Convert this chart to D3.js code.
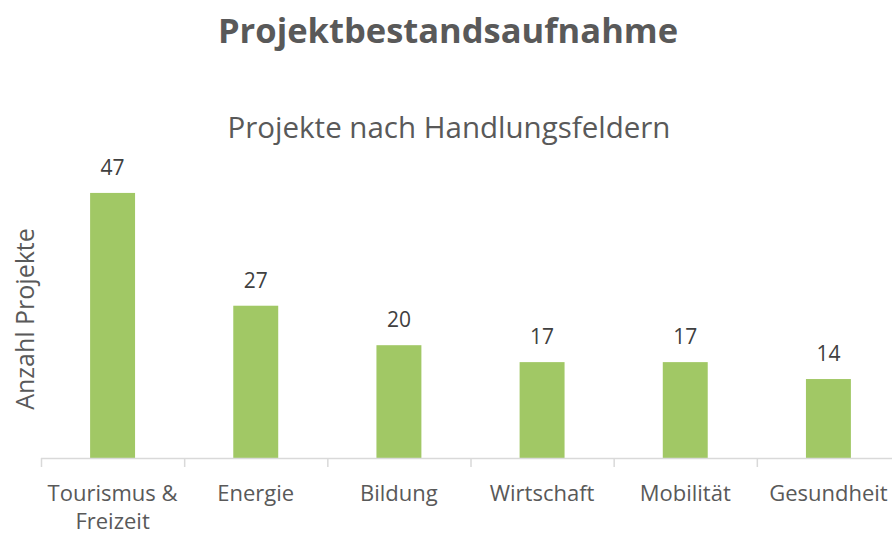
<!DOCTYPE html>
<html>
<head>
<meta charset="utf-8">
<script src="https://cdn.jsdelivr.net/npm/d3@7"></script>
<style>
  html, body { margin: 0; padding: 0; background: #fff; }
  svg { display: block; font-family: "Open Sans", "Noto Sans", sans-serif; }
</style>
</head>
<body>
<svg id="chart"></svg>
<script>
const width = 892;
const height = 535;

// data
const categories = [["Tourismus &", "Freizeit"], ["Energie"], ["Bildung"], ["Wirtschaft"], ["Mobilität"], ["Gesundheit"]];
const values = [47, 27, 20, 17, 17, 14];
const catKeys = categories.map(c => c.join(" "));

const svg = d3.select("#chart")
  .attr("width", width)
  .attr("height", height);

const x = d3.scaleBand()
  .domain(catKeys)
  .range([41, 900])
  .paddingInner(0.686)
  .paddingOuter(0.343);

const y = d3.scaleLinear()
  .domain([0, 50])
  .range([458, 176]);

// title + subtitle
svg.append("text")
  .attr("x", 448).attr("y", 43)
  .attr("text-anchor", "middle")
  .attr("font-size", 34.5).attr("font-weight", "bold")
  .attr("fill", "#595959")
  .text("Projektbestandsaufnahme");

svg.append("text")
  .attr("x", 449).attr("y", 138)
  .attr("text-anchor", "middle")
  .attr("font-size", 29.5)
  .attr("fill", "#595959")
  .text("Projekte nach Handlungsfeldern");

// y axis label
svg.append("text")
  .attr("transform", "translate(34, 319) rotate(-90)")
  .attr("text-anchor", "middle")
  .attr("font-size", 25)
  .attr("fill", "#595959")
  .text("Anzahl Projekte");

// bars
svg.selectAll(".bar")
  .data(values)
  .join("rect")
  .attr("class", "bar")
  .attr("x", (d, i) => x(catKeys[i]))
  .attr("width", x.bandwidth())
  .attr("y", d => y(d))
  .attr("height", d => y(0) - y(d))
  .attr("fill", "#A1C865");

// data labels
svg.selectAll(".val")
  .data(values)
  .join("text")
  .attr("class", "val")
  .attr("x", (d, i) => x(catKeys[i]) + x.bandwidth() / 2)
  .attr("y", d => y(d) - 18)
  .attr("text-anchor", "middle")
  .attr("font-size", 21)
  .attr("fill", "#404040")
  .text(d => d);

// category axis
const step = x.step();
const axisG = svg.append("g");
axisG.append("line")
  .attr("x1", 41).attr("x2", width)
  .attr("y1", y(0) + 0.5).attr("y2", y(0) + 0.5)
  .attr("stroke", "#d9d9d9").attr("stroke-width", 1.5);

axisG.selectAll(".tick")
  .data(d3.range(catKeys.length + 1))
  .join("line")
  .attr("class", "tick")
  .attr("x1", i => 41 + i * step + 0.5)
  .attr("x2", i => 41 + i * step + 0.5)
  .attr("y1", y(0)).attr("y2", y(0) + 9)
  .attr("stroke", "#d9d9d9").attr("stroke-width", 1.5);

const labels = axisG.selectAll(".cat")
  .data(categories)
  .join("text")
  .attr("class", "cat")
  .attr("x", (d, i) => x(catKeys[i]) + x.bandwidth() / 2)
  .attr("y", 501)
  .attr("text-anchor", "middle")
  .attr("font-size", 22)
  .attr("fill", "#595959");

labels.selectAll("tspan")
  .data(d => d)
  .join("tspan")
  .attr("x", function() { return this.parentNode.getAttribute("x"); })
  .attr("dy", (d, i) => i === 0 ? 0 : 28)
  .text(d => d);
</script>
</body>
</html>
